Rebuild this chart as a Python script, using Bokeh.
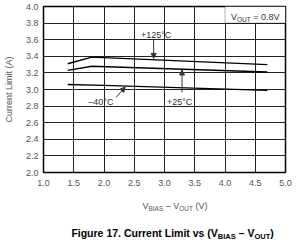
from bokeh.plotting import figure
from bokeh.layouts import column
from bokeh.models import Range1d, FixedTicker, Label, Arrow, NormalHead, BoxAnnotation
from bokeh.embed import file_html
from bokeh.resources import INLINE

# ---- data ----
vdiff_125 = [1.4, 1.8, 4.7]
limit_125 = [3.31, 3.39, 3.30]
vdiff_25 = [1.4, 1.8, 4.7]
limit_25 = [3.23, 3.28, 3.21]
vdiff_m40 = [1.4, 2.0, 4.7]
limit_m40 = [3.06, 3.05, 2.99]

x_ticks = [1.0, 1.5, 2.0, 2.5, 3.0, 3.5, 4.0, 4.5, 5.0]
x_tick_labels = ["1.0", "1.5", "2.0", "2.5", "3.0", "3.5", "4.0", "4.5", "5.0"]
y_ticks = [2.0, 2.2, 2.4, 2.6, 2.8, 3.0, 3.2, 3.4, 3.6, 3.8, 4.0]
y_tick_labels = ["2.0", "2.2", "2.4", "2.6", "2.8", "3.0", "3.2", "3.4", "3.6", "3.8", "4.0"]

FONT = "Liberation Sans"
GRAY = "#555555"
DARK = "#333333"

p = figure(width=300, height=190, output_backend="svg", toolbar_location=None,
           x_range=Range1d(1.0, 5.0), y_range=Range1d(2.0, 4.0),
           min_border_left=42, min_border_right=15, min_border_top=6, min_border_bottom=18)
p.background_fill_color = "white"
p.border_fill_color = "white"
p.outline_line_color = "black"
p.outline_line_width = 1.5

for ax, ticks, labels in ((p.xaxis[0], x_ticks, x_tick_labels), (p.yaxis[0], y_ticks, y_tick_labels)):
    ax.ticker = FixedTicker(ticks=ticks)
    ax.major_label_overrides = {t: l for t, l in zip(ticks, labels)}
    ax.major_tick_out = 0
    ax.major_tick_in = 0
    ax.minor_tick_out = 0
    ax.minor_tick_in = 0
    ax.axis_line_color = None
    ax.major_label_text_font = FONT
    ax.major_label_text_font_size = "9px"
    ax.major_label_text_color = GRAY
p.xaxis.major_label_standoff = 7
p.yaxis.major_label_standoff = 5
p.yaxis.axis_label = "Current Limit (A)"
p.yaxis.axis_label_text_font = FONT
p.yaxis.axis_label_text_font_size = "9px"
p.yaxis.axis_label_text_font_style = "normal"
p.yaxis.axis_label_text_color = GRAY
p.yaxis.axis_label_standoff = 9

p.xgrid.ticker = FixedTicker(ticks=x_ticks)
p.ygrid.ticker = FixedTicker(ticks=y_ticks)
p.grid.grid_line_color = "#222222"
p.grid.grid_line_width = 1
p.grid.grid_line_alpha = 1

for xs, ys in ((vdiff_125, limit_125), (vdiff_25, limit_25), (vdiff_m40, limit_m40)):
    p.line(xs, ys, line_color="black", line_width=1.4)

# VOUT box
p.add_layout(BoxAnnotation(left=4.0, right=5.0, bottom=3.8, top=4.0,
                           fill_color="white", fill_alpha=1, line_color="black", line_width=1))

# ---- rich text helper ----
REG = {'V': .667, 'B': .667, 'I': .278, 'A': .667, 'S': .667, 'O': .778, 'U': .722, 'T': .611,
       ' ': .278, '–': .556, '(': .333, ')': .333, '=': .584, '.': .278}
BOLD = {'F': .611, 'i': .278, 'g': .611, 'u': .611, 'r': .389, 'e': .556, ' ': .278, '.': .278,
        'C': .722, 'n': .611, 't': .333, 'L': .611, 'm': .889, 'v': .556, 's': .556, '(': .333,
        'V': .667, 'B': .722, 'I': .278, 'A': .722, 'S': .667, 'O': .778, 'U': .722, 'T': .611,
        '–': .556, ')': .333}


def tw(s, size, bold):
    tab = BOLD if bold else REG
    return sum(tab.get(c, .556) for c in s) * size


def rich(fig, x, y, pieces, color, align="left"):
    total = sum(tw(s, sz, b) for s, sz, dy, b in pieces)
    off = -total / 2 if align == "center" else 0.0
    for s, sz, dy, b in pieces:
        core = s.lstrip(" ")
        off += tw(s[:len(s) - len(core)], sz, b)   # leading spaces are collapsed in SVG
        core2 = core.rstrip(" ")
        fig.add_layout(Label(x=x, y=y, x_offset=off, y_offset=dy, text=core2,
                             text_font=FONT, text_font_size=f"{sz}px",
                             text_font_style="bold" if b else "normal",
                             text_color=color, text_align="left", text_baseline="alphabetic"))
        off += tw(core, sz, b)


# VOUT = 0.8V
rich(p, 4.5, 3.875, [("V", 9, 0, False), ("OUT", 6.5, -2.5, False), (" = 0.8V", 9, 0, False)],
     DARK, align="center")

# curve labels
for txt, lx, ly in (("+125°C", 2.61, 3.66), ("–40°C", 1.74, 2.845), ("+25°C", 3.04, 2.845)):
    p.add_layout(Label(x=lx, y=ly, text=txt, text_font=FONT, text_font_size="9px",
                       text_color=DARK, text_align="left", text_baseline="alphabetic"))

for x0, y0, x1, y1 in ((2.82, 3.60, 2.82, 3.375), (2.20, 2.905, 2.35, 3.03), (3.29, 2.965, 3.29, 3.235)):
    p.add_layout(Arrow(x_start=x0, y_start=y0, x_end=x1, y_end=y1, line_color=DARK, line_width=1,
                       end=NormalHead(size=5, fill_color=DARK, line_color=DARK)))

# ---- lower panel: x-axis title and figure caption ----
q = figure(width=300, height=58, output_backend="svg", toolbar_location=None,
           x_range=Range1d(0, 300), y_range=Range1d(0, 58),
           x_axis_type=None, y_axis_type=None,
           min_border_left=0, min_border_right=0, min_border_top=0, min_border_bottom=0)
q.outline_line_color = None
q.grid.visible = False
q.background_fill_color = "white"
q.border_fill_color = "white"

rich(q, 163, 43, [("V", 9, 0, False), ("BIAS", 6.5, -2.5, False), (" – V", 9, 0, False),
                  ("OUT", 6.5, -2.5, False), (" (V)", 9, 0, False)], GRAY, align="center")

rich(q, 160, 15.5, [("Figure 17. Current Limit vs (V", 10.5, 0, True), ("BIAS", 7.5, -3, True),
                    (" – V", 10.5, 0, True), ("OUT", 7.5, -3, True), (")", 10.5, 0, True)],
     "black", align="center")

layout = column(p, q, spacing=0)
open("out.html", "w").write(file_html(layout, INLINE))
